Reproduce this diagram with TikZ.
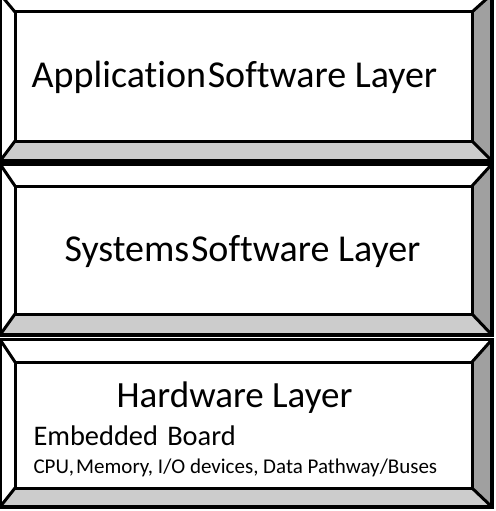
\documentclass[tikz,border=0pt]{standalone}
\usepackage{fontspec}
\setmainfont{Carlito}[Ligatures={NoCommon}]
\definecolor{bevelside}{RGB}{160,160,160}
\definecolor{bevelbottom}{RGB}{204,204,204}
% bevelled layer box: outer left, top, right, bottom; inner left, top, right, bottom
\newcommand\bevelbox[8]{%
  \fill[white] (#1,#2) -- (#3,#2) -- (#7,#6) -- (#5,#6) -- cycle;
  \fill[white] (#1,#2) -- (#5,#6) -- (#5,#8) -- (#1,#4) -- cycle;
  \fill[bevelside] (#3,#2) -- (#3,#4) -- (#7,#8) -- (#7,#6) -- cycle;
  \fill[bevelbottom] (#1,#4) -- (#3,#4) -- (#7,#8) -- (#5,#8) -- cycle;
  \fill[white] (#5,#6) rectangle (#7,#8);
  \draw[edge] (#1,#2) -- (#5,#6) (#3,#2) -- (#7,#6)
              (#1,#4) -- (#5,#8) (#3,#4) -- (#7,#8);
  \draw[edge] (#5,#6) rectangle (#7,#8);
  \draw[rim] (#1,#2) rectangle (#3,#4);
}
\begin{document}
\begin{tikzpicture}[x=1pt,y=-1pt,
  edge/.style={draw=black,line width=3pt,line join=miter},
  rim/.style={draw=black,line width=3.5pt,line join=miter},
  big/.style={font=\fontsize{38}{42}\selectfont,anchor=base},
  mid/.style={font=\fontsize{28.4}{32}\selectfont,anchor=base west},
  small/.style={font=\fontsize{21}{24}\selectfont,anchor=base west}]
\useasboundingbox (0,0) rectangle (495,511);
\begin{scope}
\clip (0,0) rectangle (495,511);
\bevelbox{0}{-6}{492}{161}{15}{12}{472}{141}
\bevelbox{0}{164}{492}{335}{15}{186}{472}{314}
\bevelbox{0}{339.5}{492}{507}{15}{362}{472}{488}
\end{scope}
\node[big] (app) at (234.5,87) {Application\hspace{-0.18em} Software Layer};
\node[big] (sys) at (242.5,261) {Systems\hspace{-0.18em} Software Layer};
\node[big,font=\fontsize{37}{41}\selectfont] (hw) at (234.5,407) {Hardware Layer};
\node[mid] (board) at (30,445) {Embedded\hspace{0.1em} Board};
\node[small] (parts) at (30,473) {CPU,\hspace{-0.12em} Memory, I/O devices, Data Pathway/Buses};
\end{tikzpicture}
\end{document}
